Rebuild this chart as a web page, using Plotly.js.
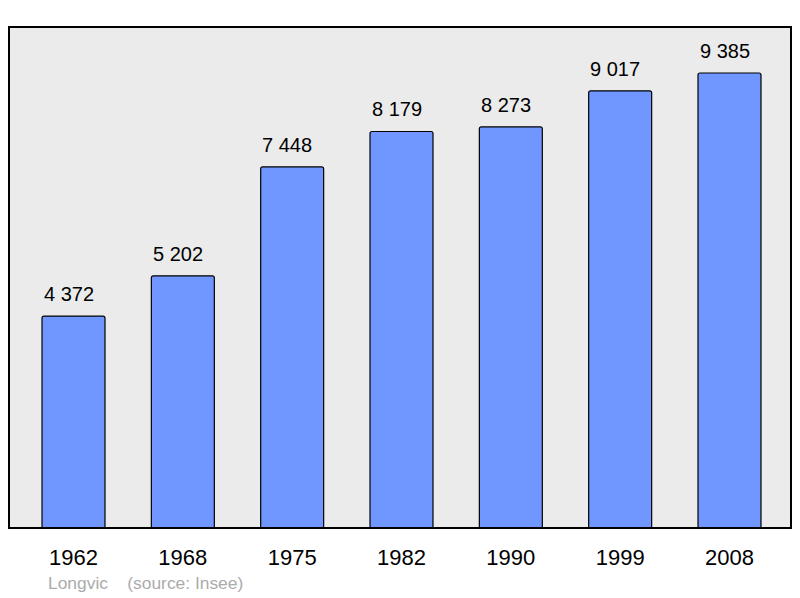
<!DOCTYPE html>
<html>
<head>
<meta charset="utf-8">
<script src="https://cdn.plot.ly/plotly-3.0.1.min.js"></script>
<style>html,body{margin:0;padding:0;background:#fff;}#chart{width:800px;height:598px;}</style>
</head>
<body>
<div id="chart"></div>
<script>
const years = ["1962", "1968", "1975", "1982", "1990", "1999", "2008"];
const population = [4372, 5202, 7448, 8179, 8273, 9017, 9385];
const footerText = "Longvic\u00a0\u00a0\u00a0\u00a0(source: Insee)";

function fmt(v) {
  return String(v).replace(/\B(?=(\d{3})+(?!\d))/g, " ");
}

const FONT = "Liberation Sans, Arial, sans-serif";

const trace = {
  type: "bar",
  x: years,
  y: population,
  marker: { color: "#7096ff", line: { color: "#000", width: 1.2 }, cornerradius: 2 },
  hoverinfo: "none"
};

const valueLabels = population.map((v, i) => ({
  x: i, y: v, xref: "x", yref: "y",
  text: fmt(v), showarrow: false,
  xanchor: "center", yanchor: "bottom", yshift: 9, xshift: -5,
  font: { family: FONT, size: 20, color: "#000" }
}));

const footer = {
  xref: "paper", yref: "paper",
  x: 37 / 782, y: -55 / 501,
  xanchor: "left", yanchor: "middle",
  text: footerText, showarrow: false,
  font: { family: FONT, size: 17.4, color: "#ababab" }
};

const layout = {
  width: 800, height: 598,
  margin: { l: 9, r: 9, t: 27, b: 70 },
  paper_bgcolor: "#ffffff",
  plot_bgcolor: "#ebebeb",
  showlegend: false,
  bargap: 0.424,
  font: { family: FONT, color: "#000" },
  xaxis: {
    type: "category",
    range: [-0.59, 6.5625],
    showgrid: false, zeroline: false, showline: false,
    ticks: "outside", ticklen: 10, tickcolor: "rgba(0,0,0,0)",
    tickfont: { family: FONT, size: 22, color: "#000" }
  },
  yaxis: {
    range: [0, 10334],
    showgrid: false, zeroline: false, showline: false,
    showticklabels: false, ticks: ""
  },
  shapes: [{
    type: "rect", xref: "paper", yref: "paper",
    x0: 0, x1: 1, y0: 0, y1: 1,
    line: { color: "#000", width: 2 }
  }],
  annotations: valueLabels.concat([footer])
};

Plotly.newPlot("chart", [trace], layout, { displayModeBar: false, staticPlot: true });
</script>
</body>
</html>
